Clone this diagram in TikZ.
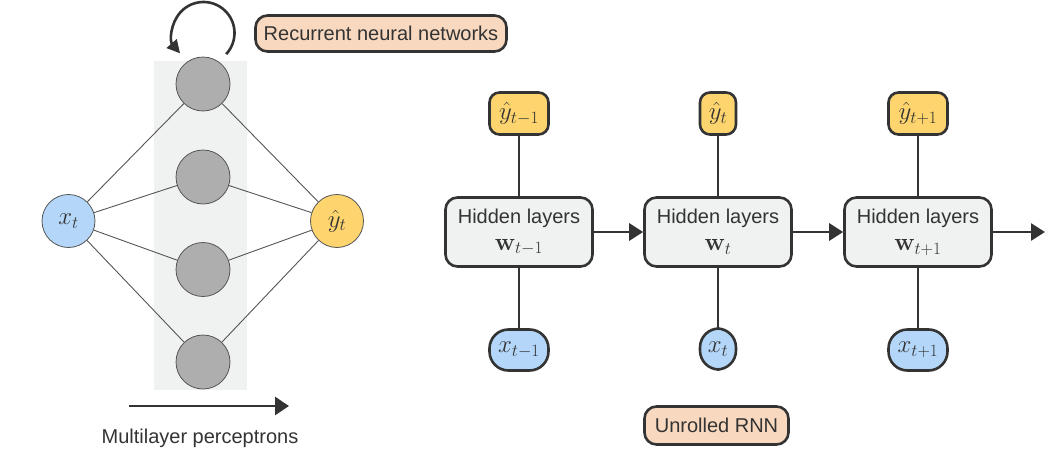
\documentclass[tikz,border=0pt]{standalone}
\usepackage[no-math]{fontspec}
\setmainfont{Liberation Sans}
\DeclareMathSizes{24}{24}{18}{14}
\usetikzlibrary{arrows.meta,calc}
\definecolor{ink}{HTML}{333333}
\definecolor{boxgray}{HTML}{F0F2F1}
\definecolor{colgray}{HTML}{F0F2F1}
\definecolor{nodegray}{HTML}{AEAEAE}
\definecolor{blu}{HTML}{B4D7F9}
\definecolor{yel}{HTML}{FDD46E}
\definecolor{peach}{HTML}{F8D9C0}
\definecolor{thinline}{HTML}{555555}
\newcommand{\mathbig}{\fontsize{24}{28}\selectfont}
\tikzset{
  txt/.style={font=\fontsize{20}{24}\selectfont, text=ink},
  mth/.style={font=\mathbig, text=ink},
  hid/.style={draw=ink, line width=2.6pt, fill=boxgray, rounded corners=12pt,
    minimum width=147pt, minimum height=69pt, inner sep=0pt, align=center,
    font=\fontsize{20}{27}\selectfont, text=ink},
  yout/.style={draw=ink, line width=2.6pt, fill=yel, rounded corners=10pt,
    minimum height=42pt, inner sep=2pt, mth},
  xin/.style={draw=ink, line width=2.6pt, fill=blu, rounded corners=19pt,
    minimum height=41pt, inner sep=2pt, mth},
  tag/.style={draw=ink, line width=2.6pt, fill=peach, rounded corners=12pt,
    minimum height=36pt, inner sep=0pt, txt},
  neuron/.style={circle, draw=thinline, line width=0.8pt, fill=nodegray,
    minimum size=54pt, inner sep=0pt},
  ionode/.style={circle, draw=thinline, line width=0.8pt,
    minimum size=53pt, inner sep=0pt, mth},
  wire/.style={draw=thinline, line width=0.9pt},
  conn/.style={draw=ink, line width=2.8pt},
  arr/.style={conn, -{Triangle[length=14pt,width=17pt]}},
}
\begin{document}
\begin{tikzpicture}[x=1pt,y=-1pt]
\useasboundingbox (0,0) rectangle (1050,474);
% ---- left: MLP / RNN ----
\fill[colgray] (154,61) rectangle (247,390);
\node[neuron] (h1) at (203,84) {};
\node[neuron] (h2) at (203,177) {};
\node[neuron] (h3) at (203,269.5) {};
\node[neuron] (h4) at (203,362) {};
\node[ionode, fill=blu] (xt) at (68.5,221) {$x_t$};
\node[ionode, fill=yel] (yt) at (337,221) {$\hat{y}_t$};
\foreach \h in {h1,h2,h3,h4}{
  \draw[wire] (xt) -- (\h);
  \draw[wire] (\h) -- (yt);
}
\coordinate (loopc) at (203.5,33);
\coordinate (loopstart) at ($(loopc)+(43:31)$);
\draw[conn, line width=2.6pt, -{Triangle[length=13pt,width=13pt]}] (loopstart) arc[start angle=43, end angle=-221, radius=31];
\node[tag, minimum width=251pt] (rnnlabel) at (381,33.5) {Recurrent neural networks};
\coordinate (mlpa) at (129,406);
\coordinate (mlpb) at (289,406);
\draw[arr, -{Triangle[length=14pt,width=18pt]}] (mlpa) -- (mlpb);
\node[txt] (mlplabel) at (200,438) {Multilayer perceptrons};
% ---- right: unrolled RNN ----
\node[hid] (b1) at (519,232) {Hidden layers\\{\mathbig$\mathbf{w}_{t-1}$}};
\node[hid] (b2) at (718,232) {Hidden layers\\{\mathbig$\mathbf{w}_{t}$}};
\node[hid] (b3) at (918,232) {Hidden layers\\{\mathbig$\mathbf{w}_{t+1}$}};
\node[yout, minimum width=59pt] (y1) at (519,113.5) {$\hat{y}_{t-1}$};
\node[yout, minimum width=36pt] (y2) at (718,113.5) {$\hat{y}_{t}$};
\node[yout, minimum width=59pt] (y3) at (918,113.5) {$\hat{y}_{t+1}$};
\node[xin, minimum width=59pt] (x1) at (519,350) {$x_{t-1}$};
\node[xin, minimum width=36pt] (x2) at (718,349) {$x_{t}$};
\node[xin, minimum width=59pt] (x3) at (918,350) {$x_{t+1}$};
\foreach \i in {1,2,3}{
  \draw[conn] (y\i) -- (b\i);
  \draw[conn] (b\i) -- (x\i);
}
\draw[arr] (b1) -- (b2);
\draw[arr] (b2) -- (b3);
\coordinate (outend) at (1045,232);
\draw[arr] (b3) -- (outend);
\node[tag, minimum width=144pt, minimum height=38pt] (unrolled) at (716.5,425.5) {Unrolled RNN};
\end{tikzpicture}
\end{document}
